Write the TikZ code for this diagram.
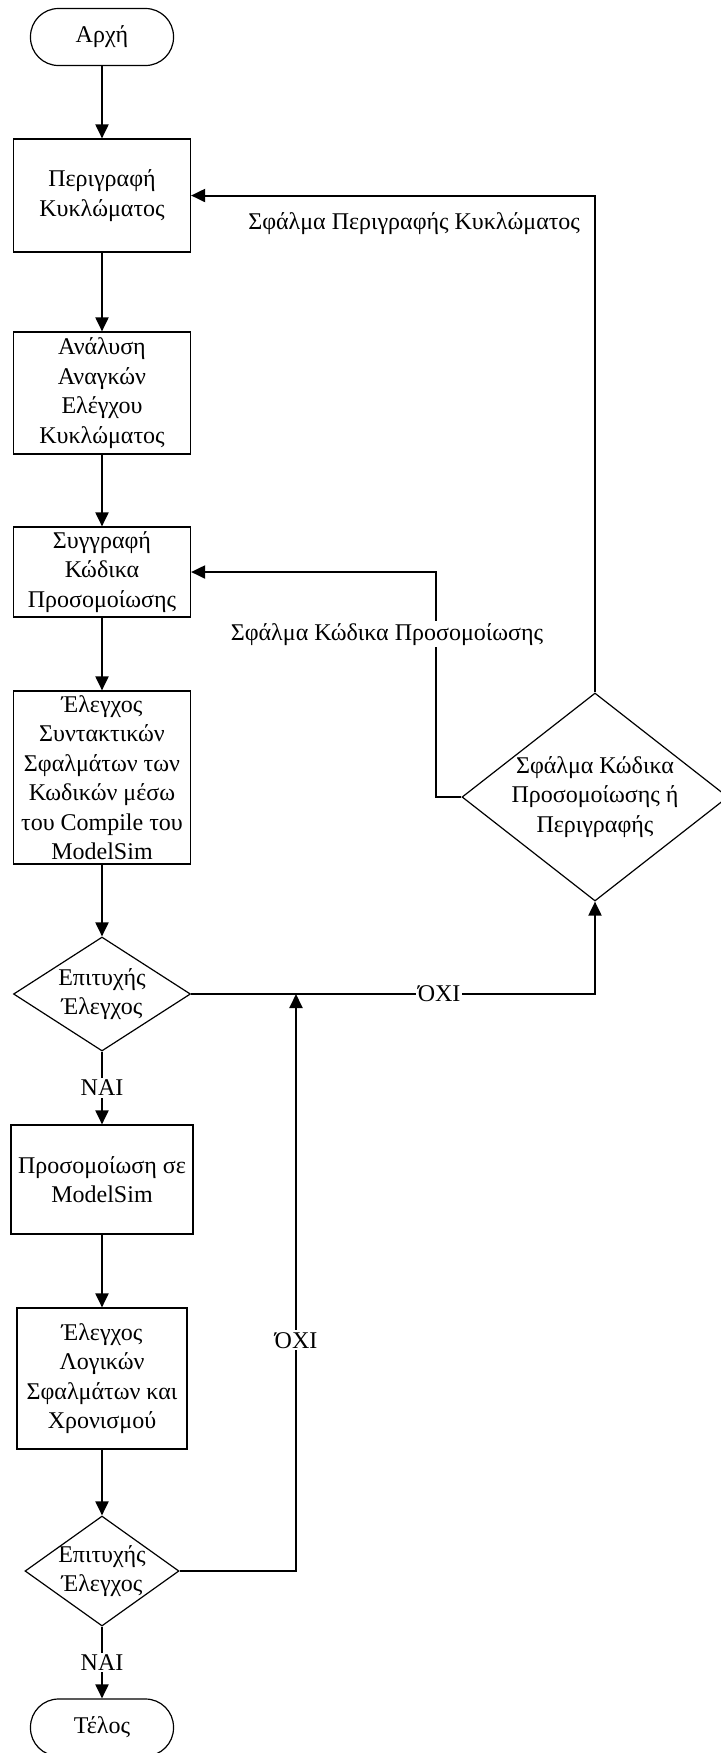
\documentclass[tikz,border=0pt]{standalone}
\usepackage{fontspec}
\setmainfont{Liberation Serif}
\usetikzlibrary{shapes.geometric,arrows.meta}

\begin{document}
\begin{tikzpicture}[x=0.5pt,y=-0.5pt,
    every node/.style={font=\fontsize{12}{14.75}\selectfont},
    box/.style={draw, line width=0.6pt, align=center, minimum width=88.5pt, inner sep=2pt},
    term/.style={draw, line width=0.6pt, rounded corners=14pt, minimum width=71.5pt, minimum height=28.5pt},
    test/.style={draw, diamond, line width=0.6pt, align=center, inner sep=0pt},
    flow/.style={line width=1pt, -{Triangle[length=7pt,width=6.5pt]}},
    tag/.style={fill=white, inner sep=1pt}]

    \useasboundingbox (0,0) rectangle (720,1753);

    % Main column
    \node[term] (start) at (102,37) {Αρχή};
    \node[box, minimum height=56.5pt] (descr) at (102,195.5) {Περιγραφή\\Κυκλώματος};
    \node[box, minimum height=61pt] (needs) at (102,393) {Ανάλυση\\Αναγκών\\Ελέγχου\\Κυκλώματος};
    \node[box, minimum height=45pt] (code) at (102,572) {Συγγραφή\\Κώδικα\\Προσομοίωσης};
    \node[box, minimum height=86.5pt] (syntax) at (102,777.5) {Έλεγχος\\Συντακτικών\\Σφαλμάτων των\\Κωδικών μέσω\\του Compile του\\ModelSim};
    \node[test, aspect=1.55, minimum width=88.5pt, minimum height=57pt] (check) at (102,994) {Επιτυχής\\Έλεγχος};
    \node[box, minimum width=91pt, minimum height=54.5pt] (sim) at (102,1179.5) {Προσομοίωση σε\\ModelSim};
    \node[box, minimum width=85pt, minimum height=70.5pt] (logic) at (102,1378.5) {Έλεγχος\\Λογικών\\Σφαλμάτων και\\Χρονισμού};
    \node[test, aspect=1.4, inner sep=-1.5pt, minimum width=77pt, minimum height=55pt] (check2) at (102,1571) {Επιτυχής\\Έλεγχος};
    \node[term] (stop) at (102,1727.5) {Τέλος};

    % Error decision
    \node[test, aspect=1.28, inner sep=-2pt, minimum width=133pt, minimum height=104pt] (err) at (595,797) {Σφάλμα Κώδικα\\Προσομοίωσης ή\\Περιγραφής};

    \coordinate (join) at (296,994);
    \coordinate (bend) at (436,797);

    % Forward flow
    \draw[flow] (start) -- (descr);
    \draw[flow] (descr) -- (needs);
    \draw[flow] (needs) -- (code);
    \draw[flow] (code) -- (syntax);
    \draw[flow] (syntax) -- (check);
    \draw[flow] (check) -- node[tag] (yes1) {ΝΑΙ} (sim);
    \draw[flow] (sim) -- (logic);
    \draw[flow] (logic) -- (check2);
    \draw[flow] (check2) -- node[tag] (yes2) {ΝΑΙ} (stop);

    % Loops back
    \draw[flow] (check.east) -| node[tag, pos=0.307] (no1) {ΌΧΙ} (err.south);
    \draw[flow] (check2.east) -| node[tag, pos=0.7] (no2) {ΌΧΙ} (join);
    \draw[flow] (err.north) |- node[pos=0.5, anchor=north east, inner xsep=7pt, inner ysep=8.25pt] (back1) {Σφάλμα Περιγραφής Κυκλώματος} (descr.east);
    \draw[flow] (err.west) -- (bend) |- node[tag, pos=0.362, xshift=-24.5pt] (back2) {Σφάλμα Κώδικα Προσομοίωσης} (code.east);
\end{tikzpicture}
\end{document}
